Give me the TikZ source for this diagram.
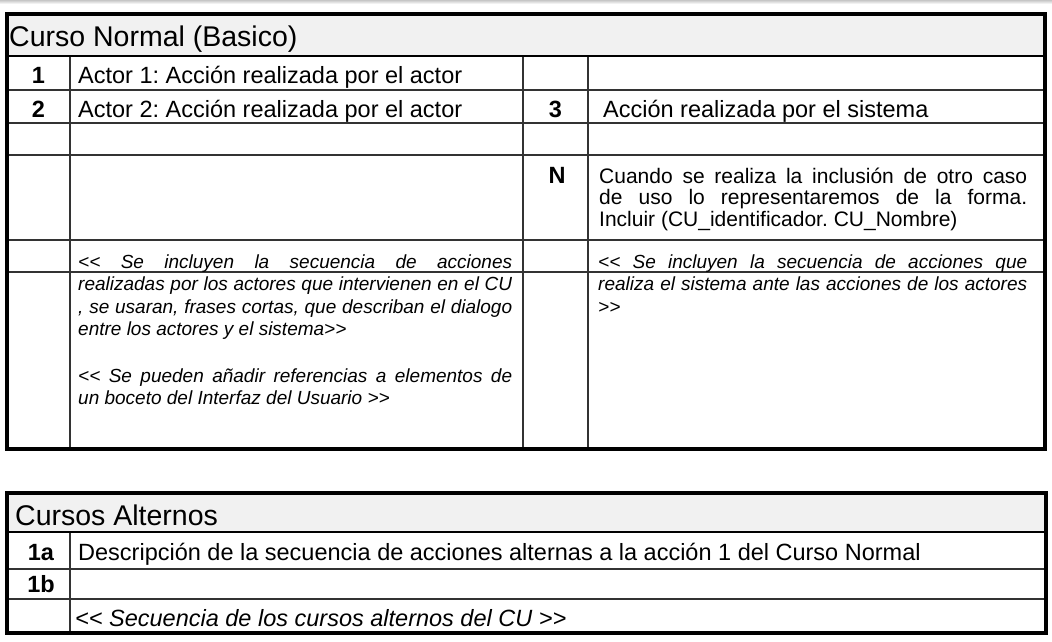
\documentclass[tikz,border=0pt]{standalone}
\usepackage{fontspec}
\setmainfont{Liberation Sans}
\definecolor{titlegray}{RGB}{241,241,241}
\newcommand{\abre}{<\kern0pt<}
\newcommand{\cierra}{>\kern0pt>}
\tikzset{
  celltext/.style={anchor=base west, inner sep=0pt, font=\fontsize{23.5}{27}\selectfont},
  numtext/.style={anchor=base, inner sep=0pt, font=\fontsize{23.5}{27}\selectfont\bfseries},
  titletext/.style={anchor=base west, inner sep=0pt, font=\fontsize{28.5}{32}\selectfont},
  notetext/.style={anchor=base west, inner sep=0pt, align=justify, font=\fontsize{19}{22.6}\selectfont\itshape},
  gridline/.style={black!80, line width=1.2pt},
  frame/.style={line width=4.5pt},
}
\frenchspacing
\begin{document}
\begin{tikzpicture}[x=1pt,y=-1pt]
\useasboundingbox (0,0) rectangle (1052,642);
\shade[top color=gray!45, bottom color=white] (0,0) rectangle (1052,4);

% Curso normal
\fill[titlegray] (7,14) rectangle (1045,56);
\foreach \y in {90,123,155,240,272}
  \draw[gridline] (7,\y) -- (1045,\y);
\foreach \x in {70,523,588}
  \draw[gridline] (\x,56) -- (\x,449);
\draw[line width=2pt] (7,56) -- (1045,56);
\draw[frame] (7,14) rectangle (1045,449);

\node[titletext] (tnormal) at (9,47) {Curso Normal (Basico)};
\node[numtext] (n1) at (38.5,83) {1};
\node[celltext] (act1) at (78,83) {Actor 1: Acción realizada por el actor};
\node[numtext] (n2) at (38.5,117) {2};
\node[celltext] (act2) at (78,117) {Actor 2: Acción realizada por el actor};
\node[numtext] (n3) at (555.5,117) {3};
\node[celltext] (sis3) at (603,117) {Acción realizada por el sistema};
\node[numtext] (nN) at (557,183) {N};
\node[celltext, align=justify, text width=428pt, font=\fontsize{21}{21.7}\selectfont] (incluir) at (599,183)
  {Cuando se realiza la inclusión de otro caso\linebreak de uso lo representaremos de la forma.\linebreak Incluir (CU\_identificador. CU\_Nombre)};

% Notas
\node[notetext, text width=434pt] (actnota) at (78,268)
  {\abre{} Se incluyen la secuencia de acciones\linebreak realizadas por los actores que intervienen en el CU\linebreak , se usaran, frases cortas, que describan el dialogo\linebreak entre los actores y el sistema\cierra};
\node[notetext, text width=434pt] (actref) at (78,382)
  {\abre{} Se pueden añadir referencias a elementos de\linebreak un boceto del Interfaz del Usuario \cierra};
\node[notetext, text width=429pt] (sisnota) at (598,268)
  {\abre{} Se incluyen la secuencia de acciones que\linebreak realiza el sistema ante las acciones de los actores\linebreak \cierra};

% Cursos alternos
\fill[titlegray] (7,493) rectangle (1046,532);
\foreach \y in {569,599}
  \draw[gridline] (7,\y) -- (1046,\y);
\draw[gridline] (70,532) -- (70,633);
\draw[line width=2pt] (7,532) -- (1046,532);
\draw[frame] (7,493) rectangle (1046,633);

\node[titletext] (talt) at (15,525) {Cursos Alternos};
\node[numtext] (n1a) at (41,560) {1a};
\node[celltext] (alt1a) at (78,560) {Descripción de la secuencia de acciones alternas a la acción 1 del Curso Normal};
\node[numtext] (n1b) at (41,592) {1b};
\node[celltext, font=\fontsize{23.5}{27}\selectfont\itshape] (altnota) at (75,626) {\abre{} Secuencia de los cursos alternos del CU \cierra};
\end{tikzpicture}
\end{document}
